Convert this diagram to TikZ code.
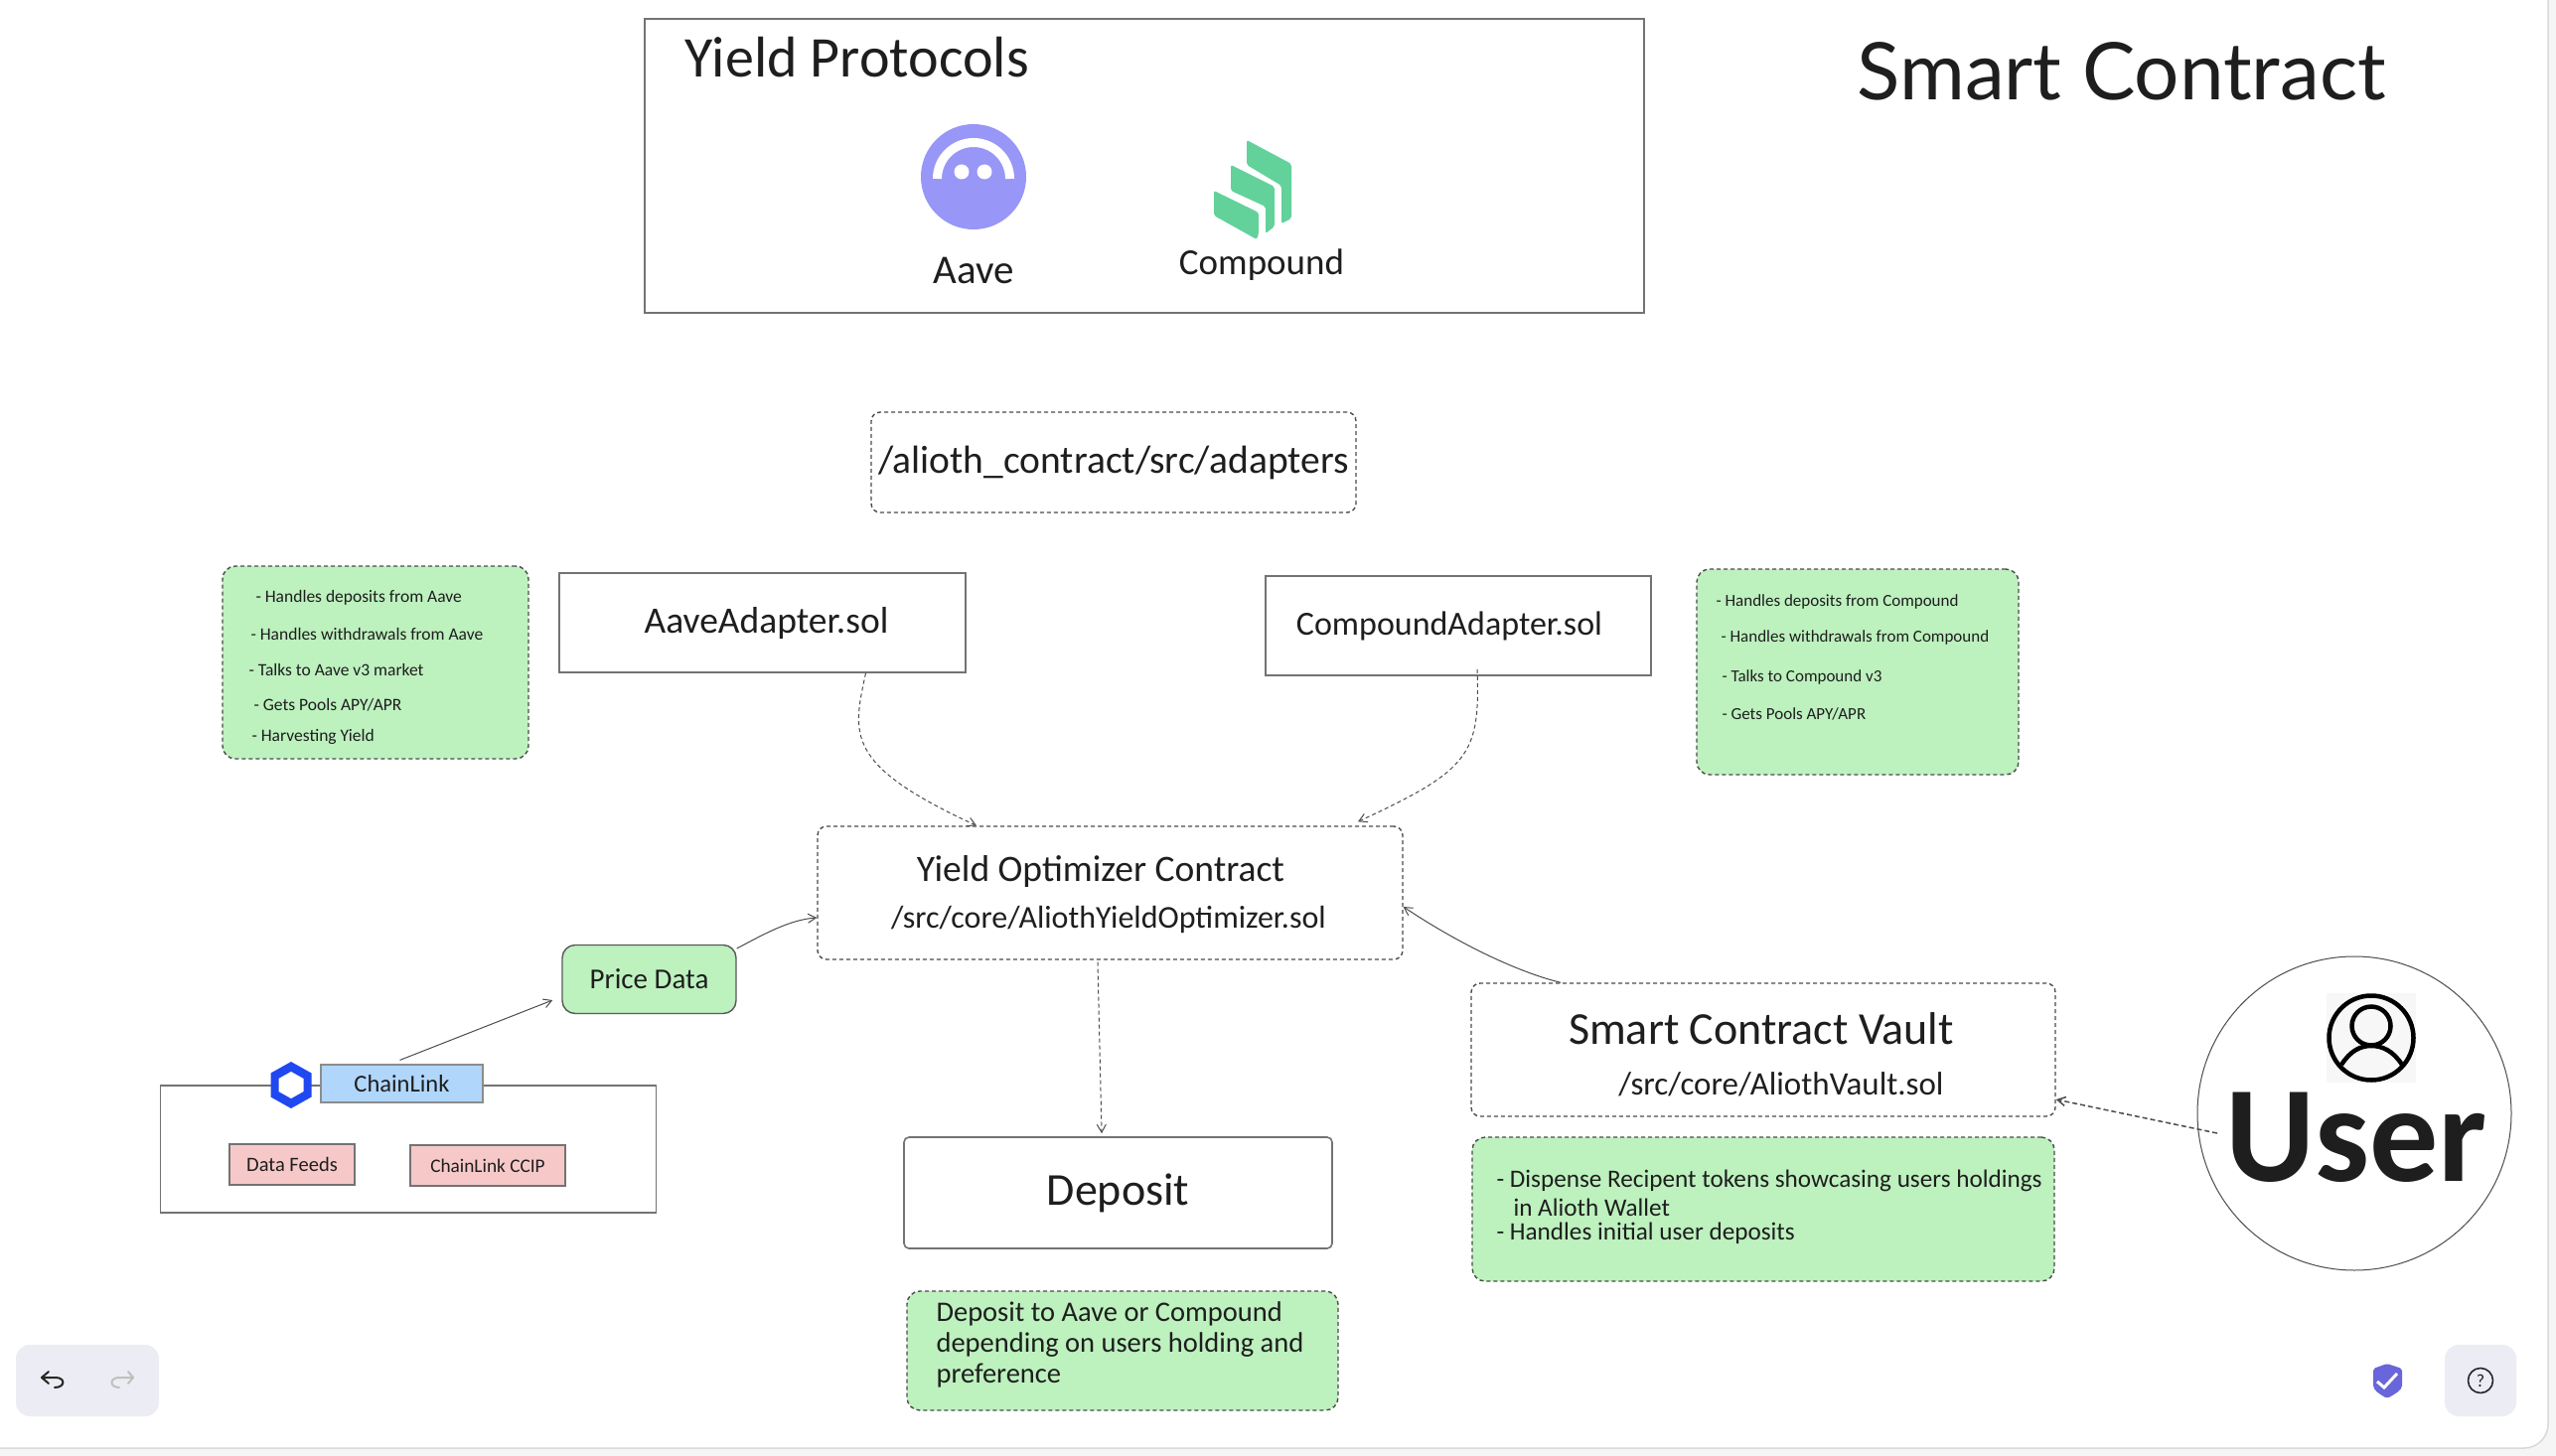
\documentclass[tikz,border=0pt]{standalone}
\usepackage{fontspec}
\setmainfont{Carlito}
\newfontfamily\titlefont{Lato}
\usepackage{xcolor}
\usetikzlibrary{arrows.meta}
\newcommand{\hand}[1]{\fontsize{#1}{#1}\selectfont}
\definecolor{inkcol}{HTML}{1E1E1E}
\definecolor{notecol}{HTML}{BDF1BE}
\definecolor{bluecol}{HTML}{B0D6FB}
\definecolor{pinkcol}{HTML}{F6C9C8}
\definecolor{panelcol}{HTML}{ECECF4}
\definecolor{aavecol}{HTML}{9896F6}
\definecolor{compcol}{HTML}{62D29A}
\definecolor{linkcol}{HTML}{1F48F0}
\definecolor{shieldcol}{HTML}{6965DB}

\begin{document}
\begin{tikzpicture}[
		x=1pt,y=-1pt,
		text=inkcol,
		PlainBox/.style={draw=black!55,line width=1.6pt,inner sep=0pt},
		DashBox/.style={draw=black!70,line width=1.4pt,dash pattern=on 4pt off 3pt,rounded corners=9pt,inner sep=0pt},
		NoteBox/.style={DashBox,fill=notecol,rounded corners=13pt},
		TagBox/.style={draw=black!55,line width=1.6pt,fill=pinkcol,inner sep=0pt},
		Link/.style={draw=black!70,line width=1pt,-{Straight Barb[length=8pt,width=9pt]}},
		DashLink/.style={Link,dash pattern=on 4pt off 3pt},
		Tool/.style={line width=2pt,line cap=round,line join=round}
		]
		\clip (0,0) rectangle (2573,1466);
		\useasboundingbox (0,0) rectangle (2573,1466);
		
		\fill[black!4] (0,0) rectangle (2573,1466);
		\draw[fill=white,draw=black!15,line width=1.5pt,rounded corners=24pt] (-40,-40) rectangle (2565,1458);
		
		\node[anchor=west,font=\titlefont\hand{80}] (Title) at (1866,72) {Smart Contract};
		
		%yield protocols
		\node[PlainBox,minimum width=1006pt,minimum height=296pt] (Protocols) at (1152,167) {};
		\node[anchor=west,font=\hand{58}] (ProtocolsText) at (686,58) {Yield Protocols};
		
		\fill[aavecol] (980,178) circle[radius=53pt];
		\draw[white,line width=9pt] (943.5,180) arc[start angle=180,end angle=0,radius=36.5pt];
		\fill[white] (968,173) circle[radius=7.5pt] (991,173) circle[radius=7.5pt];
		\node[font=\hand{41}] (AaveText) at (980,272) {Aave};
		
		\fill[compcol,rounded corners=2pt] (1222,192)--(1267,214)--(1267,236)--(1265,241)--(1222,217)--cycle;
		\fill[compcol,rounded corners=2pt] (1239,166)--(1283,188)--(1283,228)--(1274,235)--(1274,208)--(1239,192)--cycle;
		\fill[compcol,rounded corners=2pt] (1255,141)--(1300,165)--(1300,220)--(1290,225)--(1290,187)--(1255,166)--cycle;
		\node[font=\hand{37}] (CompoundText) at (1270,267) {Compound};
		
		\node[DashBox,minimum width=488pt,minimum height=101pt,font=\hand{39.5}] (Adapters) at (1121,465.5) {/alioth\_contract/src/adapters};
		
		%adapters
		\node[PlainBox,minimum width=409pt,minimum height=100pt,font=\hand{37.5}] (AaveAdapter) at (767.5,627) {\hspace*{8pt}AaveAdapter.sol};
		\node[PlainBox,minimum width=388pt,minimum height=100pt,font=\hand{34}] (CompoundAdapter) at (1468,630) {\hspace*{-18pt}CompoundAdapter.sol};
		
		\node[NoteBox,minimum width=308pt,minimum height=194pt] (AaveNote) at (378,667) {};
		\foreach \Xa/\Ya/\Line in {254/602/{- Handles deposits from Aave},249/638/{- Handles withdrawals from Aave},247/674/{- Talks to Aave v3 market},252/710/{- Gets Pools APY/APR},250/742/{- Harvesting Yield}}
			\node[anchor=west,font=\hand{17.5}] at (\Xa,\Ya) {\Line};
		
		\node[NoteBox,minimum width=324pt,minimum height=207pt] (CompoundNote) at (1870,676.5) {};
		\foreach \Xa/\Ya/\Line in {1724/606/{- Handles deposits from Compound},1729/642/{- Handles withdrawals from Compound},1730/682/{- Talks to Compound v3},1730/719/{- Gets Pools APY/APR}}
			\node[anchor=west,font=\hand{17}] at (\Xa,\Ya) {\Line};
		
		%optimizer
		\node[DashBox,minimum width=589pt,minimum height=134pt] (Optimizer) at (1117.5,899) {};
		\node[font=\hand{37.5}] (OptimizerText) at (1108,877) {Yield Optimizer Contract};
		\node[font=\hand{32}] (OptimizerPath) at (1116,926) {/src/core/AliothYieldOptimizer.sol};
		
		%chainlink
		\node[PlainBox,minimum width=499pt,minimum height=128pt] (ChainBox) at (411,1157) {};
		\node[draw=black!45,line width=1.2pt,fill=bluecol,minimum width=163pt,minimum height=38pt,inner sep=0pt,font=\hand{24.5}] (ChainLink) at (404.5,1091) {ChainLink};
		\fill[linkcol] (293,1069)--(313.5,1080.5)--(313.5,1104.5)--(293,1116)--(272.5,1104.5)--(272.5,1080.5)--cycle;
		\fill[white] (293,1079)--(305.5,1086)--(305.5,1099)--(293,1106)--(280.5,1099)--(280.5,1086)--cycle;
		\node[TagBox,minimum width=126pt,minimum height=41pt,font=\hand{20.5}] (DataFeeds) at (294,1172.5) {Data Feeds};
		\node[TagBox,minimum width=156pt,minimum height=41pt,font=\hand{19.3}] (ChainCCIP) at (491,1173.5) {ChainLink CCIP};
		
		\node[draw=black!65,line width=1.4pt,fill=notecol,rounded corners=13pt,minimum width=175pt,minimum height=69pt,inner sep=0pt,font=\hand{29}] (PriceData) at (653.5,986) {Price Data};
		
		%deposit
		\node[draw=black!55,line width=1.6pt,rounded corners=5pt,minimum width=431pt,minimum height=112pt,inner sep=0pt,font=\hand{46}] (Deposit) at (1125.5,1201) {Deposit};
		\node[NoteBox,minimum width=434pt,minimum height=120pt] (DepositNote) at (1130,1360) {};
		\foreach \Ya/\Line in {1323/{Deposit to Aave or Compound},1354/{depending on users holding and},1385/{preference}}
			\node[anchor=west,font=\hand{28.5}] at (939,\Ya) {\Line};
		
		%vault
		\node[DashBox,minimum width=588pt,minimum height=134pt] (Vault) at (1775,1057) {};
		\node[font=\hand{46}] (VaultText) at (1773,1036) {Smart Contract Vault};
		\node[font=\hand{33}] (VaultPath) at (1793,1092) {/src/core/AliothVault.sol};
		\node[NoteBox,minimum width=586pt,minimum height=145pt] (VaultNote) at (1775,1217.5) {};
		\foreach \Xa/\Ya/\Line in {1503/1189/{- Dispense Recipent tokens showcasing users holdings},1520/1216/{in Alioth Wallet},1503/1242/{- Handles initial user deposits}}
			\node[anchor=west,font=\hand{25.2}] at (\Xa,\Ya) {\Line};
		
		%user
		\node[circle,draw=black!70,line width=1pt,minimum size=316pt,inner sep=0pt] (User) at (2370,1121) {};
		\fill[black!3] (2342,1000) rectangle (2432,1090);
		\draw[black,line width=4.5pt] (2387,1045) circle[radius=42.5pt];
		\draw[black,line width=4.5pt] (2387,1033) circle[radius=19.5pt];
		\draw[black,line width=4.5pt] (2357,1072) .. controls (2366,1058) and (2376,1053) .. (2387,1053) .. controls (2398,1053) and (2409,1058) .. (2418,1072);
		\node[font=\hand{138}\bfseries] (UserText) at (2372,1145) {User};
		
		%connectors
		\coordinate (UserEnd) at (2232,1141);
		\draw[Link,dash pattern=on 5pt off 3pt,line width=1.5pt] (UserEnd)--([yshift=-50pt]Vault.east);
		\draw[DashLink] ([xshift=104pt]AaveAdapter.south) .. controls (858,740) and (850,770) .. ([xshift=-134.5pt]Optimizer.north);
		\draw[DashLink] ([xshift=19pt,yshift=7pt]CompoundAdapter.south) .. controls (1490,760) and (1480,775) .. ([xshift=249.5pt,yshift=4pt]Optimizer.north);
		\draw[DashLink] ([xshift=-12.5pt,yshift=-2pt]Optimizer.south)--([xshift=-16.5pt,yshift=3pt]Deposit.north);
		\draw[Link] ([xshift=-204pt]Vault.north) .. controls (1525,978) and (1465,948) .. ([yshift=-14pt]Optimizer.east);
		\draw[Link] ([yshift=31pt]PriceData.east) .. controls (770,940) and (795,926) .. ([yshift=-25pt]Optimizer.west);
		\draw[Link] ([xshift=-2pt,yshift=4pt]ChainLink.north)--([xshift=-9pt,yshift=-21pt]PriceData.west);
		
		%toolbar
		\node[fill=panelcol,rounded corners=14pt,minimum width=144pt,minimum height=72pt,inner sep=0pt] (UndoPanel) at (88,1390) {};
		\draw[Tool,black!85] (49,1381)--(42,1387)--(49,1393) (42,1387)--(56,1387) .. controls (66,1387) and (66,1397) .. (55,1397);
		\draw[Tool,black!25] (129,1381)--(134,1387)--(129,1393) (134,1387)--(120,1387) .. controls (110,1387) and (110,1397) .. (120,1397);
		\fill[shieldcol,rounded corners=2pt] (2403,1373)--(2418,1378)--(2418,1393) .. controls (2418,1400) and (2410,1404) .. (2403,1408) .. controls (2396,1404) and (2389,1400) .. (2389,1393)--(2389,1378)--cycle;
		\draw[white,line width=3pt] (2393,1391)--(2400,1397)--(2413,1383);
		\node[fill=panelcol,rounded corners=14pt,minimum size=72pt,inner sep=0pt] (HelpPanel) at (2497,1390) {};
		\node[circle,draw=black!85,line width=1.6pt,minimum size=25pt,inner sep=0pt,font=\hand{18}] (HelpMark) at (2497,1390) {?};
		
		\end{tikzpicture}
\end{document}
